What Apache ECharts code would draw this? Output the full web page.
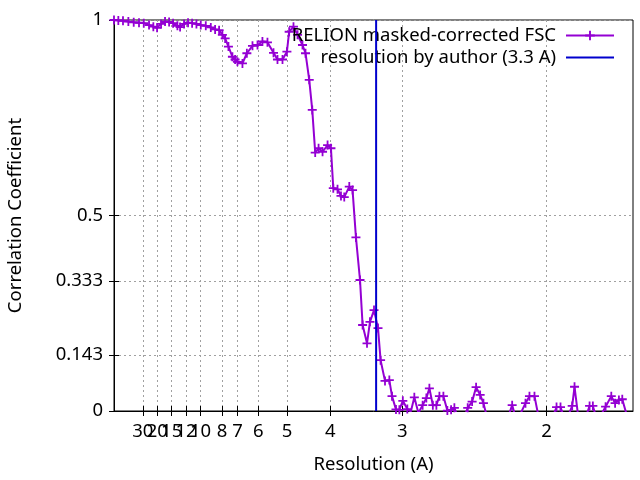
<!DOCTYPE html>
<html>
<head>
<meta charset="utf-8">
<script src="https://cdn.jsdelivr.net/npm/echarts@6/dist/echarts.min.js"></script>
<style>
  html, body { margin: 0; padding: 0; background: #fff; }
  #main { width: 640px; height: 480px; }
</style>
</head>
<body>
<div id="main"></div>
<script>
// spatial frequency (1/A) and FSC
var freq = [0, 0.0050, 0.0104, 0.0166, 0.0228, 0.0289, 0.0344, 0.0405, 0.0455, 0.0498,
  0.0544, 0.0590, 0.0637, 0.0683, 0.0733, 0.0764, 0.0810, 0.0856, 0.0903, 0.0953,
  0.1003, 0.1061, 0.1119, 0.1169, 0.1215, 0.1253, 0.1285, 0.1323, 0.1369, 0.1400,
  0.1427, 0.1485, 0.1536, 0.1601, 0.1659, 0.1716, 0.1774, 0.1844, 0.1890, 0.1948,
  0.1999, 0.2025, 0.2075, 0.2122, 0.2179, 0.2214, 0.2257, 0.2292, 0.2326, 0.2365,
  0.2411, 0.2469, 0.2508, 0.2535, 0.2584, 0.2624, 0.2662, 0.2720, 0.2758, 0.2797,
  0.2844, 0.2874, 0.2925, 0.2959, 0.3006, 0.3052, 0.3082, 0.3133, 0.3183, 0.3214,
  0.3260, 0.3299, 0.3339, 0.3391, 0.3432, 0.3472, 0.3519, 0.3568, 0.3611, 0.3646,
  0.3686, 0.3727, 0.3762, 0.3808, 0.3854, 0.3897, 0.3935, 0.3981, 0.4028, 0.4089,
  0.4140, 0.4186, 0.4233, 0.4271, 0.4317, 0.4363, 0.4410, 0.4456, 0.4502, 0.4549,
  0.4603, 0.4647, 0.4693, 0.4757, 0.4803, 0.4861, 0.4913, 0.4965, 0.5012, 0.5064,
  0.5116, 0.5162, 0.5208, 0.5255, 0.5297, 0.5324, 0.5370, 0.5417, 0.5463, 0.5498,
  0.5536, 0.5579, 0.5631, 0.5683, 0.5749, 0.5793, 0.5837, 0.5876, 0.5922];
var fsc = [1.000, 0.999, 0.998, 0.996, 0.994, 0.993, 0.992, 0.987, 0.983, 0.980,
  0.990, 0.996, 0.995, 0.992, 0.985, 0.982, 0.990, 0.993, 0.992, 0.990,
  0.987, 0.985, 0.981, 0.976, 0.974, 0.962, 0.953, 0.932, 0.906, 0.899,
  0.893, 0.889, 0.915, 0.934, 0.936, 0.945, 0.943, 0.916, 0.899, 0.899,
  0.919, 0.970, 0.983, 0.962, 0.936, 0.915, 0.847, 0.770, 0.661, 0.672,
  0.663, 0.680, 0.672, 0.570, 0.567, 0.550, 0.547, 0.574, 0.565, 0.444,
  0.335, 0.220, 0.173, 0.228, 0.258, 0.212, 0.130, 0.077, 0.079, 0.038,
  0.004, 0.003, 0.026, 0.005, -0.001, 0.035, -0.005, 0.015, 0.033, 0.058,
  0.015, 0.015, 0.038, 0.038, 0.001, 0.003, 0.008, -0.02, -0.03, 0.008,
  0.024, 0.061, 0.041, 0.020, -0.02, -0.04, -0.03, -0.05, -0.03, -0.02,
  0.015, -0.02, -0.01, 0.020, 0.038, 0.038, -0.02, -0.04, -0.03, -0.02,
  0.010, 0.010, -0.02, -0.01, 0.013, 0.062, -0.02, -0.03, -0.01, 0.013,
  0.013, -0.02, -0.01, 0.011, 0.038, 0.020, 0.028, 0.030, -0.006];
// x tick labels are resolutions in A, placed at 1/A
var resTicks = [30, 20, 15, 12, 10, 8, 7, 6, 5, 4, 3, 2];
var yTicks = [0, 0.143, 0.333, 0.5, 1];
var authorRes = 3.3;

var font = 'Noto Sans';
var fs = 18.5;
var xTickVals = resTicks.map(function (r) { return 1 / r; });
// blank label at 0 so the crowded "30" is not treated as the edge label
var xLabelVals = [0].concat(xTickVals);
var fscData = freq.map(function (f, i) { return [f, fsc[i]]; });
var plus = 'path://M4,0H6V4H10V6H6V10H4V6H0V4H4Z';
var gridLine = { show: true, lineStyle: { color: '#a0a0a0', type: [2, 3], width: 1 } };

var myChart = echarts.init(document.getElementById('main'), null, { renderer: 'canvas' });
myChart.setOption({
  animation: false,
  textStyle: { fontFamily: font, color: '#000' },
  grid: {
    left: 114, right: 7, top: 20, bottom: 69,
    outerBoundsMode: 'none',
    show: true, borderColor: '#000', borderWidth: 1, backgroundColor: 'transparent'
  },
  legend: {
    orient: 'vertical',
    right: 20, top: 21,
    align: 'right',
    itemWidth: 48, itemHeight: 12, itemGap: 3,
    textStyle: { fontFamily: font, fontSize: fs, color: '#000', padding: [0, 5, 0, 0] },
    data: ['RELION masked-corrected FSC', 'resolution by author (3.3 A)']
  },
  xAxis: [{
    type: 'value', min: 0, max: 0.6,
    name: 'Resolution (A)', nameLocation: 'middle', nameGap: 44,
    nameTextStyle: { fontFamily: font, fontSize: fs, color: '#000' },
    axisLine: { show: true, lineStyle: { color: '#000', width: 1 } },
    axisTick: { show: true, inside: true, length: 5, lineStyle: { color: '#000' }, customValues: xTickVals },
    axisLabel: {
      fontFamily: font, fontSize: fs, color: '#000', margin: 11,
      hideOverlap: false,
      customValues: xLabelVals,
      formatter: function (v) { return v > 0 ? String(Math.round(1 / v)) : ''; }
    },
    splitLine: gridLine
  }, {
    type: 'value', min: 0, max: 0.6, position: 'top',
    axisLine: { show: false },
    axisTick: { show: true, inside: true, length: 5, lineStyle: { color: '#000' }, customValues: xTickVals },
    axisLabel: { show: false },
    splitLine: { show: false }
  }],
  yAxis: [{
    type: 'value', min: 0, max: 1,
    name: 'Correlation Coefficient', nameLocation: 'middle', nameGap: 89,
    nameTextStyle: { fontFamily: font, fontSize: fs, color: '#000' },
    axisLine: { show: true, lineStyle: { color: '#000', width: 1 } },
    axisTick: { show: true, inside: true, length: 5, lineStyle: { color: '#000' }, customValues: yTicks },
    axisLabel: {
      fontFamily: font, fontSize: fs, color: '#000', margin: 11,
      customValues: yTicks,
      formatter: function (v) { return String(v); }
    },
    splitLine: gridLine
  }, {
    type: 'value', min: 0, max: 1, position: 'right',
    axisLine: { show: false },
    axisTick: { show: true, inside: true, length: 5, lineStyle: { color: '#000' }, customValues: yTicks },
    axisLabel: { show: false },
    splitLine: { show: false }
  }],
  series: [{
    name: 'RELION masked-corrected FSC',
    type: 'line',
    data: fscData,
    clip: true,
    symbol: plus,
    symbolSize: 9,
    showAllSymbol: true,
    itemStyle: { color: '#9400d3' },
    lineStyle: { color: '#9400d3', width: 2 },
    z: 3
  }, {
    name: 'resolution by author (3.3 A)',
    type: 'line',
    data: [[1 / authorRes, 0], [1 / authorRes, 1]],
    symbol: 'none',
    itemStyle: { color: '#0000cd', opacity: 0 },
    lineStyle: { color: '#0000cd', width: 2, opacity: 1 },
    z: 4
  }]
});
</script>
</body>
</html>
